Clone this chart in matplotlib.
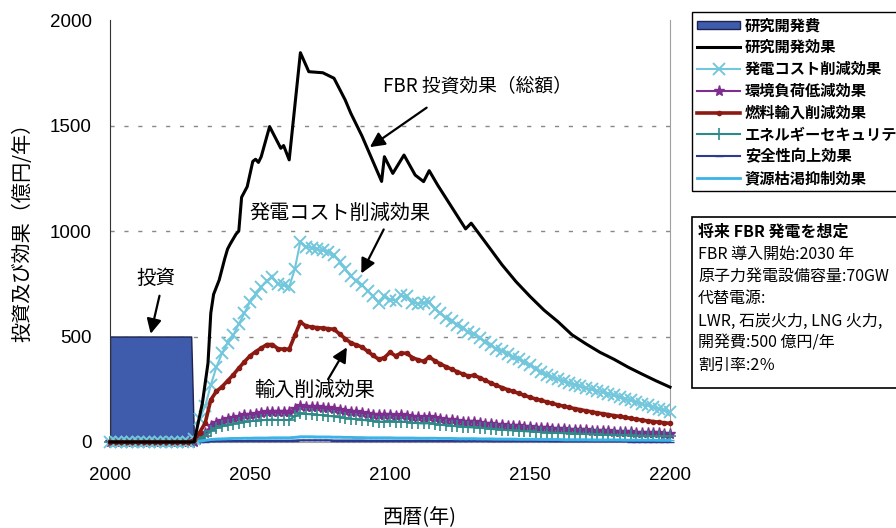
import numpy as np
import matplotlib
matplotlib.use('Agg')
import matplotlib.pyplot as plt
from matplotlib.patches import Rectangle, Patch

plt.rcParams['font.family'] = ['Noto Sans CJK JP', 'DejaVu Sans']

# R&D investment (億円/年)
rd_years = [2000, 2029, 2030]
rd_cost = [500, 500, 0]

# total effect (black line), read at irregular years
total_years = [2000, 2030, 2031, 2033, 2035, 2036, 2037, 2039, 2041, 2042, 2043, 2045,
               2046, 2047, 2049, 2051, 2052, 2053, 2054, 2057, 2061, 2062, 2064, 2068,
               2071, 2076, 2080, 2084, 2086, 2090, 2097, 2098, 2101, 2105, 2109, 2112,
               2114, 2117, 2127, 2129, 2135, 2140, 2145, 2150, 2155, 2160, 2165, 2170,
               2175, 2180, 2185, 2190, 2195, 2200]
total_effect = [0, 0, 60, 185, 374, 611, 700, 768, 870, 915, 940, 985,
                1000, 1160, 1210, 1330, 1340, 1325, 1352, 1495, 1392, 1405, 1337, 1845,
                1755, 1750, 1724, 1621, 1558, 1450, 1235, 1352, 1273, 1360, 1265, 1234,
                1286, 1218, 1010, 1037, 930, 840, 760, 690, 625, 570, 508, 465,
                425, 392, 355, 322, 290, 260]

# component effects, every 2 years from 2000 to 2200
years = np.arange(2000, 2201, 2)
pre = [0] * 15  # 2000-2028

power_cost = pre + [
    15, 110, 170, 270, 355, 420, 470, 505, 560, 610,
    665, 700, 735, 765, 780, 750, 742, 735, 820, 950,
    925, 920, 915, 908, 900, 888, 855, 820, 785, 765,
    745, 715, 690, 660, 690, 675, 670, 695, 690, 660,
    655, 660, 665, 630, 610, 590, 575, 555, 540, 520,
    510, 495, 475, 458, 443, 430, 418, 405, 392, 380,
    365, 345, 330, 318, 307, 297, 288, 280, 272, 264,
    256, 249, 242, 236, 229, 221, 213, 205, 197, 189,
    181, 173, 165, 158, 150, 142]

env_load = pre + [
    0, 20, 45, 75, 90, 100, 108, 115, 120, 126,
    130, 134, 137, 140, 142, 141, 142, 140, 158, 170,
    168, 166, 164, 162, 160, 157, 152, 148, 144, 140,
    136, 133, 130, 127, 128, 127, 124, 126, 124, 120,
    118, 116, 117, 113, 110, 106, 103, 99, 96, 94,
    93, 90, 87, 85, 82, 80, 78, 76, 74, 72,
    70, 68, 66, 65, 63, 62, 60, 59, 57, 56,
    55, 54, 52, 51, 50, 49, 48, 47, 46, 45,
    44, 43, 42, 41, 40, 40]

fuel_import = pre + [
    10, 45, 90, 200, 240, 262, 290, 318, 350, 380,
    408, 428, 445, 462, 462, 442, 440, 440, 505, 568,
    550, 545, 542, 540, 537, 534, 512, 490, 470, 460,
    450, 430, 410, 392, 400, 425, 408, 422, 420, 400,
    390, 382, 403, 385, 370, 357, 345, 333, 322, 313,
    316, 305, 292, 280, 268, 258, 248, 240, 230, 221,
    212, 204, 197, 190, 183, 176, 170, 164, 158, 153,
    148, 143, 138, 134, 130, 125, 121, 117, 112, 108,
    104, 100, 97, 94, 91, 88]

energy_sec = pre + [
    0, 12, 30, 52, 66, 74, 80, 86, 91, 95,
    98, 101, 103, 105, 106, 104, 105, 104, 122, 136,
    133, 131, 129, 127, 124, 121, 117, 114, 111, 108,
    105, 102, 99, 96, 97, 98, 95, 97, 95, 91,
    89, 88, 89, 85, 82, 79, 77, 74, 72, 70,
    69, 67, 65, 62, 60, 58, 56, 55, 53, 51,
    50, 48, 47, 45, 44, 43, 42, 41, 40, 39,
    38, 37, 36, 35, 34, 33, 33, 32, 31, 30,
    30, 29, 28, 28, 27, 27]

safety = pre + [
    0, 1, 2, 3, 4, 4, 5, 5, 5, 5,
    6, 6, 6, 6, 6, 6, 6, 6, 7, 8,
    8, 8, 8, 8, 8, 7, 7, 7, 7, 7,
    7, 6, 6, 6, 6, 6, 6, 6, 6, 6,
    6, 6, 6, 5, 5, 5, 5, 5, 5, 5,
    5, 5, 5, 4, 4, 4, 4, 4, 4, 4,
    4, 4, 4, 4, 3, 3, 3, 3, 3, 3,
    3, 3, 3, 3, 3, 3, 3, 3, 2, 2,
    2, 2, 2, 2, 2, 2]

resource = pre + [
    0, 4, 8, 12, 14, 15, 16, 17, 17, 18,
    18, 19, 19, 19, 20, 20, 20, 20, 22, 25,
    25, 25, 24, 24, 24, 23, 23, 22, 22, 21,
    21, 20, 20, 20, 20, 20, 19, 19, 19, 19,
    18, 18, 18, 18, 17, 17, 17, 16, 16, 16,
    16, 15, 15, 15, 14, 14, 14, 14, 13, 13,
    13, 13, 12, 12, 12, 12, 11, 11, 11, 11,
    11, 10, 10, 10, 10, 10, 10, 9, 9, 9,
    9, 9, 9, 8, 8, 8]

labels = ['研究開発費', '研究開発効果', '発電コスト削減効果', '環境負荷低減効果',
          '燃料輸入削減効果', 'エネルギーセキュリティ', '安全性向上効果', '資源枯渇抑制効果']

fig = plt.figure(figsize=(8.96, 5.28), dpi=100)
ax = fig.add_axes([110/896, 1-442/528, 560/896, 422/528])

# dashed grid
for lv in [500, 1000, 1500]:
    ax.axhline(lv, color='#888888', lw=1, ls=(0, (3, 7)), zorder=0)

ax.fill_between(rd_years, rd_cost, color='#3f5bab', edgecolor='#1c2350', lw=1, zorder=2)

h_total, = ax.plot(total_years, total_effect, color='black', lw=2.2, zorder=5, clip_on=False)
h_cost, = ax.plot(years, power_cost, color='#72c7dc', lw=1.5, marker='x', ms=9, mew=1.4,
                  zorder=4, clip_on=False)
h_env, = ax.plot(years, env_load, color='#7d2e8e', lw=1.5, marker='*', ms=8,
                 zorder=3, clip_on=False)
h_fuel, = ax.plot(years, fuel_import, color='#8b1a12', lw=2.6, marker='o', ms=3,
                  zorder=4, clip_on=False)
h_sec, = ax.plot(years, energy_sec, color='#2e8a88', lw=1.5, marker='+', ms=8, mew=1.2,
                 zorder=3, clip_on=False)
h_safe, = ax.plot(years, safety, color='#2c3a8f', lw=1.5, marker='_', ms=6,
                  zorder=3, clip_on=False)
h_res, = ax.plot(years, resource, color='#3ab4e6', lw=2, marker='_', ms=6,
                 zorder=3, clip_on=False)

ax.set_xlim(2000, 2200)
ax.set_ylim(0, 2000)
ax.set_xticks([2000, 2050, 2100, 2150, 2200])
ax.set_yticks([0, 500, 1000, 1500, 2000])
ax.tick_params(axis='both', length=0, labelsize=13.5)
ax.tick_params(axis='y', pad=13)
ax.tick_params(axis='x', pad=18)
for lab in ax.get_xticklabels() + ax.get_yticklabels():
    lab.set_family('Liberation Sans')
ax.spines['top'].set_visible(False)
ax.spines['right'].set_color('#a0a0a0')
ax.spines['bottom'].set_color('#a0a0a0')
ax.spines['left'].set_color('#333333')

fig.text(23/896, 1-227/528, '投資及び効果（億円/年）', rotation=90, ha='center', va='center',
         fontsize=14.5)
fig.text(420/896, 1-518/528, '西暦(年)', ha='center', va='center', fontsize=14.5)

# annotations
arrow = dict(arrowstyle='-|>', color='black', lw=1.6, mutation_scale=22)
ax.annotate('', xy=(2092.0, 1390), xytext=(2113.9, 1592), arrowprops=arrow)
ax.text(2131.4, 1687, 'FBR 投資効果（総額）', ha='center', va='center', fontsize=13.5)
ax.annotate('', xy=(2089.3, 787), xytext=(2098.2, 1019), arrowprops=arrow)
ax.text(2082.1, 1085, '発電コスト削減効果', ha='center', va='center', fontsize=14.5)
ax.annotate('', xy=(2085.1, 460), xytext=(2077.4, 286), arrowprops=arrow)
ax.text(2073.2, 246, '輸入削減効果', ha='center', va='center', fontsize=14.5)
ax.annotate('', xy=(2014.3, 500), xytext=(2017.9, 706), arrowprops=arrow)
ax.text(2016.4, 773, '投資', ha='center', va='center', fontsize=14)

# legend
h_rd = Patch(facecolor='#3f5bab', edgecolor='#1c2350', lw=1)
handles = [h_rd, h_total, h_cost, h_env, h_fuel, h_sec, h_safe, h_res]
leg = fig.legend(handles, labels, loc='upper left', bbox_to_anchor=(692/896, 1-12/528),
                 prop={'size': 11, 'weight': 'bold'}, frameon=True, fancybox=False,
                 edgecolor='black', framealpha=1, borderpad=0.35, labelspacing=0.38,
                 handlelength=2.8, handleheight=0.5, handletextpad=0.3, borderaxespad=0)
leg.get_frame().set_linewidth(1)

# info box
fig.patches.append(Rectangle((692/896, 1-388/528), 0.3, 171/528, transform=fig.transFigure,
                             facecolor='white', edgecolor='black', lw=1.2))
info = ['将来 FBR 発電を想定', 'FBR 導入開始:2030 年', '原子力発電設備容量:70GW', '代替電源:',
        'LWR, 石炭火力, LNG 火力,', '開発費:500 億円/年', '割引率:2％']
for i, line in enumerate(info):
    fig.text(698/896, 1-(232 + 22.3*i)/528, line, ha='left', va='center', fontsize=11.5,
             fontweight='bold' if i == 0 else 'normal')

fig.savefig('out.png', dpi=100)
